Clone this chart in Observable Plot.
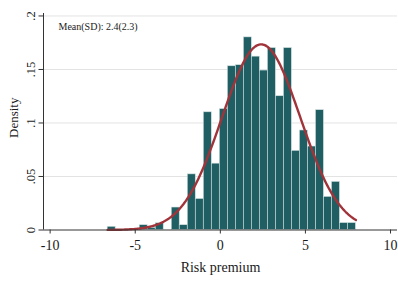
<!DOCTYPE html>
<html>
<head>
<meta charset="utf-8">
<script src="https://cdn.jsdelivr.net/npm/d3@7"></script>
<script src="https://cdn.jsdelivr.net/npm/@observablehq/plot@0.6"></script>
<style>
  html, body { margin: 0; padding: 0; background: #fff; }
</style>
</head>
<body>
<div id="chart"></div>
<script>
// Histogram bin edges (31 bins) and densities
const binEdges = [-6.62, -6.149, -5.678, -5.208, -4.738, -4.267, -3.796, -3.326, -2.855, -2.385,
  -1.914, -1.443, -0.973, -0.502, -0.032, 0.439, 0.910, 1.380, 1.851, 2.321,
  2.792, 3.263, 3.733, 4.204, 4.674, 5.145, 5.616, 6.086, 6.557, 7.027, 7.498, 7.968];
const densities = [0.003, 0, 0, 0, 0.0045, 0.002, 0.0063, 0, 0.021, 0.0045,
  0.052, 0.029, 0.110, 0.062, 0.113, 0.153, 0.154, 0.180, 0.162, 0.149,
  0.170, 0.125, 0.170, 0.074, 0.093, 0.078, 0.112, 0.031, 0.045, 0.0065, 0.0065];

// Normal density overlay parameters
const normMean = 2.4;
const normSD = 2.3;

const xTicks = [-10, -5, 0, 5, 10];
const yTicks = [0, 0.05, 0.1, 0.15, 0.2];
const yTickLabels = ["0", ".05", ".1", ".15", ".2"];
const xLabel = "Risk premium";
const yLabel = "Density";
const note = "Mean(SD): 2.4(2.3)";

const xMin = -10.39, xMax = 10.41, yTop = 0.2023;

const bars = densities.map((d, i) => ({x1: binEdges[i], x2: binEdges[i + 1], d}));
const lo = binEdges[0], hi = binEdges[binEdges.length - 1];
const curve = d3.range(0, 201).map(k => {
  const x = lo + (hi - lo) * k / 200;
  const z = (x - normMean) / normSD;
  return {x, y: Math.exp(-0.5 * z * z) / (normSD * Math.sqrt(2 * Math.PI))};
});

const ink = "#1a1a1a";
const chart = Plot.plot({
  width: 398,
  height: 281,
  marginLeft: 43,
  marginRight: 1,
  marginTop: 13,
  marginBottom: 51.5,
  x: {domain: [xMin, xMax]},
  y: {domain: [0, yTop]},
  style: {fontFamily: "'Liberation Serif', 'Times New Roman', serif", background: "#fff", color: ink},
  marks: [
    Plot.ruleY(yTicks.slice(1), {stroke: "#e3e3e3", strokeWidth: 1}),
    Plot.rect(bars, {x1: "x1", x2: "x2", y1: 0, y2: "d", fill: "#1f5f63", stroke: "#d5e2e2", strokeWidth: 0.6}),
    Plot.line(curve, {x: "x", y: "y", stroke: "#a1343a", strokeWidth: 2.4}),
    Plot.ruleY([0], {stroke: "#333", strokeWidth: 1}),
    Plot.ruleX([xMin], {y1: 0, y2: yTop, stroke: "#333", strokeWidth: 1}),
    Plot.axisX({ticks: xTicks, tickSize: 4, tickFormat: () => "", label: null, stroke: "#333"}),
    Plot.axisY({ticks: yTicks, tickSize: 4.5, tickFormat: () => "", label: null, stroke: "#333"}),
    Plot.text(xTicks, {x: d => d, y: 0, text: d => String(d), dy: 16, fontSize: 14, fill: ink}),
    Plot.text(yTicks, {x: xMin, y: d => d, text: (d, i) => yTickLabels[i], rotate: -90, dx: -13, fontSize: 12.5, fill: ink,
      textAnchor: "middle", lineAnchor: "middle"}),
    Plot.text([xLabel], {frameAnchor: "bottom", text: d => d, dy: 37.5, fontSize: 14, fill: ink,
      textAnchor: "middle", lineAnchor: "middle"}),
    Plot.text([yLabel], {frameAnchor: "left", text: d => d, rotate: -90, dx: -30, dy: -4, fontSize: 13, fill: ink,
      textAnchor: "middle", lineAnchor: "middle"}),
    Plot.text([note], {frameAnchor: "top-left", text: d => d, dx: 15, dy: 13, textAnchor: "start", lineAnchor: "middle",
      fontSize: 10, fill: ink})
  ]
});
document.getElementById("chart").appendChild(chart);
</script>
</body>
</html>
